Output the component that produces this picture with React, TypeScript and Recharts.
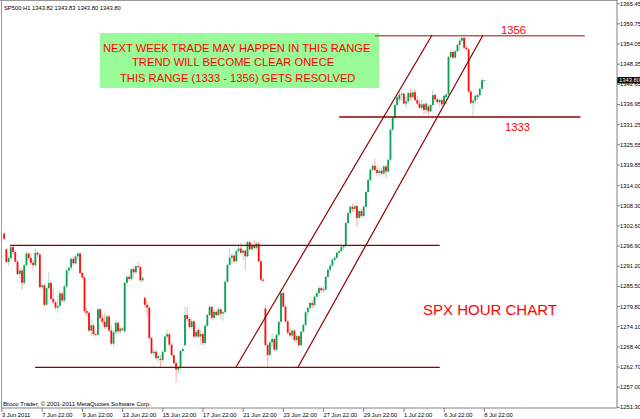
import React from 'react'
import { ComposedChart, Bar, XAxis, YAxis, ReferenceLine } from 'recharts'

// SP500 H1 bars as [open, high, low, close], split at the time labels
const barsJun03 = [
  [1300.4, 1300.8, 1298.6, 1299.0], [1296.0, 1296.4, 1292.0, 1292.4], [1292.4, 1294.0, 1291.4, 1293.5],
  [1293.5, 1297.2, 1293.0, 1296.6], [1296.6, 1297.0, 1294.5, 1295.2], [1295.2, 1295.8, 1292.0, 1292.5],
  [1292.5, 1293.0, 1288.5, 1289.0], [1289.0, 1290.6, 1287.6, 1290.0], [1290.0, 1290.5, 1284.5, 1286.5],
  [1286.5, 1291.8, 1286.0, 1291.5], [1291.5, 1295.2, 1291.0, 1294.8], [1294.8, 1295.0, 1292.8, 1293.5],
  [1293.5, 1294.8, 1291.6, 1292.2], [1292.2, 1293.0, 1290.0, 1291.5], [1291.5, 1296.3, 1291.0, 1295.0],
  [1295.0, 1295.5, 1293.8, 1294.5], [1294.5, 1295.0, 1285.0, 1285.3], [1285.3, 1286.3, 1284.6, 1285.8],
  [1285.8, 1286.5, 1279.8, 1280.3], [1280.3, 1285.5, 1280.0, 1285.0], [1285.0, 1289.5, 1284.5, 1286.5],
  [1286.5, 1287.0, 1281.5, 1282.0], [1282.0, 1285.0, 1280.5, 1281.0], [1281.0, 1281.6, 1278.8, 1279.5],
  [1279.5, 1283.0, 1278.0, 1280.0], [1280.0, 1284.5, 1279.5, 1283.5], [1283.5, 1284.0, 1281.0, 1281.5],
  [1281.5, 1286.0, 1281.0, 1285.5], [1285.5, 1290.5, 1285.0, 1290.0], [1290.0, 1291.0, 1288.8, 1290.8],
  [1290.8, 1293.6, 1290.2, 1293.3], [1293.3, 1294.0, 1291.5, 1292.0], [1292.0, 1294.5, 1291.7, 1294.0],
  [1294.0, 1295.3, 1293.0, 1294.8], [1294.8, 1295.3, 1289.0, 1289.3], [1289.3, 1289.8, 1287.5, 1288.0],
  [1288.0, 1288.5, 1278.0, 1278.5], [1278.5, 1279.5, 1277.0, 1278.0], [1278.0, 1278.5, 1272.5, 1273.0],
  [1273.0, 1276.0, 1271.5, 1274.5], [1274.5, 1275.0, 1271.5, 1272.0], [1272.0, 1272.5, 1271.3, 1271.8],
  [1271.8, 1279.5, 1271.5, 1279.0], [1279.0, 1279.5, 1275.5, 1276.5], [1276.5, 1277.5, 1274.5, 1275.5],
  [1275.5, 1278.0, 1273.5, 1274.0], [1274.0, 1277.5, 1273.5, 1277.0], [1277.0, 1277.3, 1272.5, 1273.0],
  [1273.0, 1274.5, 1268.8, 1269.3], [1269.3, 1273.0, 1268.5, 1272.5], [1272.5, 1275.8, 1272.0, 1275.2],
  [1275.2, 1275.6, 1272.0, 1272.8], [1272.8, 1274.0, 1272.0, 1273.6], [1273.6, 1274.0, 1272.8, 1273.2],
]

const barsJun13 = [
  [1272.8, 1286.8, 1272.3, 1286.5], [1286.5, 1288.6, 1286.0, 1288.2], [1288.2, 1288.8, 1287.0, 1287.6],
  [1287.6, 1290.6, 1287.2, 1290.4], [1290.4, 1291.0, 1288.0, 1289.5], [1289.5, 1291.5, 1289.0, 1291.2],
  [1291.2, 1292.4, 1290.5, 1291.0], [1291.0, 1291.3, 1286.8, 1287.2], [1287.2, 1288.2, 1287.0, 1287.9],
  [1282.2, 1282.6, 1279.8, 1280.3], [1280.3, 1281.5, 1277.0, 1279.5], [1279.5, 1280.0, 1270.5, 1270.9],
  [1270.9, 1271.2, 1266.2, 1266.6], [1266.6, 1268.0, 1265.8, 1267.0], [1267.0, 1267.5, 1264.6, 1265.2],
  [1265.2, 1266.5, 1264.0, 1265.8], [1265.0, 1266.0, 1262.4, 1264.7], [1264.7, 1267.5, 1264.0, 1267.0],
  [1267.0, 1271.6, 1266.8, 1271.3], [1271.3, 1273.2, 1270.5, 1272.0], [1272.0, 1272.4, 1268.6, 1269.0],
  [1269.0, 1269.5, 1265.6, 1266.0], [1266.0, 1266.4, 1263.4, 1263.8], [1263.8, 1264.2, 1258.2, 1262.0],
  [1262.0, 1263.0, 1261.0, 1262.4], [1262.4, 1267.6, 1262.0, 1267.2], [1267.2, 1268.2, 1266.8, 1267.8],
  [1268.9, 1279.7, 1268.5, 1277.4], [1277.4, 1279.7, 1275.5, 1276.3], [1276.3, 1276.8, 1273.6, 1274.0],
  [1274.0, 1276.4, 1273.4, 1275.6], [1275.6, 1275.9, 1271.0, 1271.3], [1271.3, 1273.2, 1270.8, 1272.6],
  [1273.2, 1273.6, 1270.8, 1271.3], [1271.3, 1273.2, 1269.0, 1272.0], [1272.0, 1272.5, 1268.9, 1269.5],
  [1269.5, 1274.8, 1269.0, 1274.4], [1274.4, 1277.8, 1274.0, 1277.4], [1277.4, 1280.2, 1277.0, 1279.7],
  [1279.7, 1280.0, 1276.0, 1276.6], [1276.6, 1278.8, 1276.0, 1278.3], [1278.3, 1278.6, 1277.0, 1277.4],
  [1277.4, 1279.5, 1277.0, 1279.0], [1279.0, 1279.3, 1276.2, 1277.8], [1277.8, 1278.5, 1275.8, 1278.2],
  [1278.2, 1287.2, 1277.8, 1286.8], [1286.8, 1291.9, 1286.5, 1291.6], [1291.6, 1296.2, 1291.2, 1293.6],
  [1293.6, 1294.8, 1291.8, 1294.2], [1294.2, 1294.8, 1292.0, 1292.6], [1292.6, 1296.0, 1292.2, 1295.5],
  [1295.5, 1297.5, 1295.0, 1296.2], [1296.2, 1297.8, 1294.8, 1295.0], [1295.0, 1296.0, 1292.8, 1295.6],
]

const barsJun21 = [
  [1295.6, 1296.0, 1290.0, 1294.0], [1294.0, 1298.4, 1293.6, 1298.0], [1298.0, 1298.6, 1295.6, 1296.0],
  [1296.0, 1297.8, 1295.4, 1297.2], [1297.2, 1298.6, 1295.8, 1296.4], [1296.4, 1298.0, 1296.0, 1297.6],
  [1297.6, 1298.0, 1292.2, 1292.6], [1292.6, 1293.0, 1287.0, 1287.4], [1287.4, 1287.8, 1286.8, 1287.1],
  [1279.2, 1280.2, 1268.6, 1268.9], [1268.9, 1269.4, 1262.7, 1266.1], [1266.1, 1270.2, 1265.6, 1269.7],
  [1269.7, 1272.2, 1268.4, 1270.6], [1270.6, 1271.0, 1267.2, 1267.6], [1267.6, 1272.2, 1267.0, 1271.8],
  [1271.8, 1275.8, 1271.4, 1275.5], [1275.5, 1284.0, 1275.0, 1283.6], [1283.6, 1284.0, 1279.4, 1279.8],
  [1279.8, 1280.2, 1275.2, 1275.6], [1275.6, 1276.0, 1271.8, 1272.4], [1272.4, 1273.6, 1271.0, 1271.6],
  [1271.6, 1273.4, 1270.6, 1273.0], [1273.0, 1273.4, 1269.8, 1270.3], [1270.3, 1272.0, 1269.4, 1271.4],
  [1271.4, 1271.8, 1268.4, 1268.9], [1268.9, 1273.0, 1268.5, 1272.7], [1272.7, 1275.0, 1272.3, 1274.6],
  [1274.6, 1278.5, 1274.2, 1278.2], [1278.2, 1279.8, 1277.0, 1279.4], [1279.4, 1281.2, 1278.6, 1280.8],
  [1280.8, 1281.4, 1279.2, 1280.2], [1280.2, 1283.0, 1279.8, 1282.6], [1282.6, 1284.2, 1282.0, 1283.6],
  [1283.6, 1285.6, 1283.2, 1285.0], [1285.0, 1285.6, 1283.8, 1284.4], [1284.4, 1285.4, 1283.6, 1284.8],
]

const barsJun28 = [
  [1284.6, 1288.6, 1284.2, 1288.2], [1288.2, 1290.6, 1287.8, 1290.2], [1290.2, 1291.8, 1289.8, 1291.4],
  [1291.4, 1293.4, 1291.0, 1293.0], [1293.0, 1294.0, 1292.4, 1293.6], [1293.6, 1295.4, 1293.2, 1295.0],
  [1295.0, 1295.8, 1294.4, 1295.5], [1295.5, 1297.0, 1295.0, 1296.6], [1296.6, 1297.2, 1295.8, 1296.9],
  [1296.9, 1303.8, 1296.5, 1303.4], [1303.4, 1306.6, 1303.0, 1306.2], [1306.2, 1308.4, 1305.8, 1308.0],
  [1308.0, 1309.0, 1306.5, 1307.4], [1307.4, 1308.6, 1306.6, 1308.2], [1308.2, 1308.6, 1302.3, 1304.9],
  [1304.9, 1307.2, 1304.4, 1306.8], [1306.8, 1307.4, 1304.8, 1305.4], [1305.4, 1308.5, 1305.0, 1308.0],
  [1308.0, 1312.5, 1307.6, 1312.2], [1312.2, 1315.9, 1311.8, 1315.6], [1315.6, 1318.8, 1315.2, 1318.5],
  [1318.5, 1320.2, 1317.8, 1319.6], [1319.6, 1321.6, 1318.0, 1318.4], [1318.4, 1319.4, 1316.8, 1317.6],
  [1317.6, 1319.0, 1316.4, 1318.2], [1318.2, 1319.2, 1317.0, 1317.4], [1317.4, 1319.8, 1317.0, 1319.4],
  [1319.4, 1320.0, 1316.0, 1318.0], [1318.0, 1321.6, 1317.6, 1321.3], [1321.3, 1330.2, 1321.0, 1329.8],
  [1329.8, 1333.6, 1329.4, 1333.2], [1333.2, 1337.2, 1332.8, 1336.8], [1336.8, 1339.4, 1336.2, 1339.0],
  [1338.4, 1341.1, 1337.5, 1339.7], [1339.7, 1340.4, 1338.0, 1340.0], [1340.0, 1340.3, 1336.8, 1337.2],
]

const barsJul01 = [
  [1337.2, 1339.2, 1336.0, 1337.8], [1337.8, 1340.5, 1337.2, 1340.2], [1340.2, 1341.4, 1338.0, 1339.0],
  [1339.0, 1341.0, 1338.5, 1340.4], [1340.4, 1341.4, 1337.8, 1338.2], [1338.2, 1339.4, 1336.6, 1337.2],
  [1337.2, 1338.2, 1335.6, 1336.0], [1336.0, 1338.4, 1335.2, 1337.0], [1337.0, 1337.5, 1334.0, 1335.4],
  [1335.4, 1337.6, 1334.4, 1337.2], [1336.4, 1337.0, 1333.4, 1335.0], [1335.0, 1337.2, 1334.8, 1336.8],
  [1336.8, 1341.1, 1336.4, 1339.6], [1339.6, 1340.0, 1337.8, 1338.4], [1338.4, 1339.0, 1337.0, 1337.6],
  [1337.6, 1338.6, 1336.4, 1338.2], [1338.2, 1338.6, 1336.2, 1337.0], [1337.0, 1339.8, 1336.6, 1339.4],
  [1339.0, 1340.0, 1337.0, 1339.8], [1339.8, 1350.8, 1339.4, 1350.4], [1350.4, 1352.2, 1349.8, 1351.8],
  [1351.8, 1352.2, 1349.8, 1350.2], [1350.2, 1352.6, 1349.6, 1352.0], [1352.0, 1354.2, 1351.6, 1353.8],
  [1353.8, 1355.6, 1352.4, 1355.0], [1355.0, 1356.4, 1354.6, 1355.8], [1355.8, 1356.0, 1352.6, 1353.0],
  [1353.0, 1353.6, 1352.2, 1352.6], [1352.6, 1353.0, 1340.2, 1340.6], [1340.6, 1341.0, 1337.0, 1337.4],
  [1337.4, 1338.6, 1333.4, 1338.0], [1338.0, 1339.8, 1337.2, 1339.4], [1339.0, 1340.0, 1338.2, 1339.6],
  [1339.6, 1341.8, 1339.0, 1341.4], [1341.4, 1344.4, 1341.0, 1343.8], [1343.8, 1344.0, 1343.7, 1343.8],
]

// time axis: bar number of each label
const timeTicks = [0, 18, 36, 54, 72, 90, 108, 126, 144, 162, 180, 198, 216]
const timeLabels = [
  '3 Jun 2011', '7 Jun 22:00', '9 Jun 22:00', '13 Jun 22:00', '15 Jun 22:00', '17 Jun 22:00', '21 Jun 22:00',
  '23 Jun 22:00', '27 Jun 22:00', '29 Jun 22:00', '1 Jul 22:00', '6 Jul 22:00', '8 Jul 22:00',
]
const priceTicks = [
  1251.3, 1257.0, 1262.7, 1268.4, 1274.1, 1279.8, 1285.5, 1291.2, 1296.9, 1302.6, 1308.3,
  1314.0, 1319.85, 1325.55, 1331.25, 1336.95, 1342.65, 1348.35, 1354.05, 1359.75, 1365.45,
]

// drawn levels (price, first bar, last bar) and channel lines (bar, price)
const topLevel = { price: 1356.4, from: 167, to: 261 }
const levels = [
  { price: 1333.4, from: 151, to: 259 },
  { price: 1297.1, from: 3.6, to: 196 },
  { price: 1262.6, from: 14.8, to: 196 },
]
const channels = [
  [[104.8, 1262.7], [192.6, 1356.6]],
  [[132.6, 1262.7], [215.4, 1356.6]],
]

const rows = [...barsJun03, ...barsJun13, ...barsJun21, ...barsJun28, ...barsJul01].map(([o, h, l, c], k) => ({
  i: k + 1, o, h, l, c, range: [l, h],
}))
const last = rows[rows.length - 1].c

const font = 'Liberation Sans, Arial, sans-serif'

function Candle(props: any) {
  const { x, y, width, height, payload } = props
  if (!payload) return null
  const { o, h, l, c } = payload
  const col = c >= o ? '#0aa04f' : '#ff0d0d'
  const k = h > l ? height / (h - l) : 0
  const cx = x + width / 2
  const yo = y + (h - o) * k
  const yc = y + (h - c) * k
  return (
    <g>
      <line x1={cx} x2={cx} y1={y} y2={y + height} stroke={col} strokeOpacity={0.35} strokeWidth={1} />
      <rect x={cx - 0.9} y={Math.min(yo, yc)} width={1.8} height={Math.max(Math.abs(yc - yo), 0.8)} fill={col} />
    </g>
  )
}

function TimeTick(props: any) {
  const { x, y, payload } = props
  return (
    <text x={x} y={y + 4.6} fontSize={5.8} fontFamily={font} fill="#000" textAnchor="start">
      {timeLabels[timeTicks.indexOf(payload.value)]}
    </text>
  )
}

function PriceTick(props: any) {
  const { x, y, payload } = props
  return (
    <text x={x} y={y + 2} fontSize={5.8} fontFamily={font} fill="#000" textAnchor="start">
      {Number(payload.value).toFixed(2)}
    </text>
  )
}

function PriceTag(props: any) {
  const { viewBox } = props
  if (!viewBox) return null
  const x = viewBox.x + viewBox.width
  return (
    <g>
      <rect x={x} y={viewBox.y - 3.2} width={23} height={6.4} fill="#000" />
      <text x={x + 2} y={viewBox.y + 2} fontSize={5.8} fontFamily={font} fill="#fff">{last.toFixed(2)}</text>
    </g>
  )
}

export default function App() {
  return (
    <div style={{ position: 'absolute', left: 0, top: 0, width: 640, height: 419, background: '#fff', overflow: 'hidden' }}>
      <svg width={640} height={419} style={{ position: 'absolute', left: 0, top: 0 }}>
        <line x1={1.5} x2={1.5} y1={0} y2={408} stroke="#999" />
        <line x1={0} x2={617} y1={0.5} y2={0.5} stroke="#999" />
        <text x={4} y={9.5} fontSize={5.8} fontFamily={font} fill="#000">SP500,H1  1343.82 1343.83 1343.80 1343.80</text>
        <rect x={100} y={33} width={279} height={55} fill="#98fb98" />
        <g fontFamily={font} fontSize={11.2} fill="#ff0000">
          <text x={103} y={51.7}>NEXT WEEK TRADE MAY HAPPEN IN THIS RANGE</text>
          <text x={132} y={66}>TREND WILL BECOME CLEAR ONECE</text>
          <text x={120} y={82}>THIS RANGE (1333 - 1356) GETS RESOLVED</text>
          <text x={501} y={34}>1356</text>
          <text x={505} y={131}>1333</text>
          <text x={423} y={314.5} fontSize={15}>SPX HOUR CHART</text>
        </g>
        <text x={3} y={405.5} fontSize={6} fontFamily={font} fill="#000">Broco Trader, © 2001-2011 MetaQuotes Software Corp.</text>
      </svg>
      <div style={{ position: 'absolute', left: 0, top: 0 }}>
        <ComposedChart width={640} height={419} data={rows} margin={{ top: 0, right: 0, bottom: 0, left: 1 }}>
          <XAxis
            type="number" dataKey="i" domain={[-0.45, 275.4]} ticks={timeTicks} interval={0} height={11}
            tickSize={4} tickMargin={0} stroke="#808080" tick={<TimeTick />}
          />
          <YAxis
            orientation="right" width={23} domain={[1251.1, 1366.5]} ticks={priceTicks} interval={0}
            tickSize={3} tickMargin={0} stroke="#808080" tick={<PriceTick />}
          />
          {levels.map((lv, n) => (
            <ReferenceLine key={'lv' + n} segment={[{ x: lv.from, y: lv.price }, { x: lv.to, y: lv.price }]} stroke="#8b0000" strokeWidth={1.4} ifOverflow="visible" />
          ))}
          <ReferenceLine segment={[{ x: topLevel.from, y: topLevel.price }, { x: topLevel.to, y: topLevel.price }]} stroke="#c05a5a" strokeWidth={1.6} ifOverflow="visible" />
          {channels.map((ch, n) => (
            <ReferenceLine key={'ch' + n} segment={[{ x: ch[0][0], y: ch[0][1] }, { x: ch[1][0], y: ch[1][1] }]} stroke="#8b0000" strokeWidth={1.2} ifOverflow="visible" />
          ))}
          <Bar dataKey="range" barSize={2} shape={<Candle />} isAnimationActive={false} />
          <ReferenceLine y={last} stroke="none" label={<PriceTag />} />
        </ComposedChart>
      </div>
    </div>
  )
}
